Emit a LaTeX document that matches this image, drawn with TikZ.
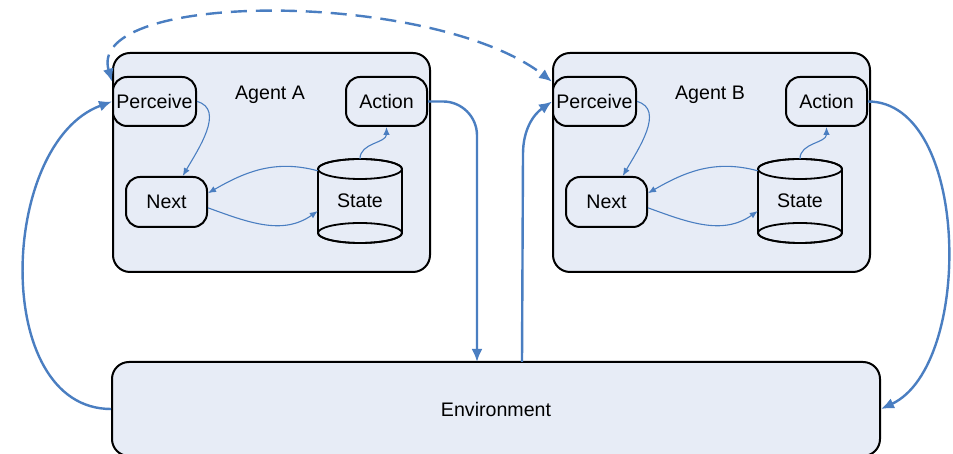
\documentclass[tikz,border=0pt]{standalone}
\usepackage{fontspec}
\setmainfont{Liberation Sans}
\usetikzlibrary{arrows.meta}
\definecolor{fillc}{RGB}{231,236,246}
\definecolor{linkc}{RGB}{74,126,193}
\begin{document}
\begin{tikzpicture}[x=1pt,y=1pt,
  font=\fontsize{19.6}{22}\selectfont,
  frame/.style={draw=black, line width=2pt, fill=fillc, rounded corners=17pt, inner sep=0pt},
  box/.style={draw=black, line width=2pt, fill=fillc, rounded corners=14pt, inner sep=0pt,
              minimum height=49pt},
  cylline/.style={draw=black, line width=1.8pt},
  bigtip/.tip={Latex[length=13pt,width=11pt]},
  smalltip/.tip={Latex[length=8pt,width=6.5pt]},
  bigarrow/.style={draw=linkc, line width=2.4pt, -bigtip},
  smallarrow/.style={draw=linkc, line width=1.1pt, -smalltip},
]
\useasboundingbox[fill=white] (0,0) rectangle (953,454);

% environment
\node[frame, minimum width=768pt, minimum height=94pt] (env) at (496,45) {Environment};

% the two agents, identical apart from their horizontal offset
\foreach \ag/\dx in {A/0,B/440}{
  \begin{scope}[xshift=\dx pt]
    \node[frame, minimum width=317pt, minimum height=219pt] (ag\ag) at (271.5,291.5) {};
    \node (lab\ag) at (270,359) {Agent \ag};
    \node[box, minimum width=83pt] (per\ag) at (154.5,352.5) {Perceive};
    \node[box, minimum width=81pt] (act\ag) at (386.5,352.5) {Action};
    \node[box, minimum width=81pt, minimum height=50pt] (nx\ag) at (166.5,252) {Next};
    % state store drawn as a cylinder
    \path[cylline, fill=fillc] (318,285) -- (318,221)
      arc[start angle=180, end angle=360, x radius=42pt, y radius=10pt]
      -- (402,285)
      arc[start angle=0, end angle=180, x radius=42pt, y radius=10pt] -- cycle;
    \draw[cylline] (360,285) ellipse[x radius=42pt, y radius=10pt];
    \draw[cylline] (360,221) ellipse[x radius=42pt, y radius=10pt];
    \node[minimum width=84pt, minimum height=84pt, inner sep=0pt] (st\ag) at (360,253) {State};
    % internal flow
    \draw[smallarrow] (per\ag.east) to[out=-15,in=60] (nx\ag.58);
    \draw[smallarrow] ([yshift=-12pt]st\ag.north west) to[out=165,in=30] (nx\ag.12);
    \draw[smallarrow] (nx\ag.-8) to[out=-20,in=215] ([yshift=-10pt]st\ag.west);
    \draw[smallarrow] (st\ag.north) to[out=90,in=-90] (act\ag.south);
  \end{scope}
}

% links between agents and environment
\coordinate (ea) at (477,92);
\coordinate (eb) at (522,92);
\draw[bigarrow] (env.west) to[out=180,in=200] (perA.west);
\draw[bigarrow, rounded corners=34pt] (actA.east) -| (ea);
\draw[bigarrow] (eb) -- (523,300) to[out=90,in=215] (perB.west);
\draw[bigarrow] (actB.east) to[out=0,in=25,looseness=0.85] (env.east);
\draw[bigarrow, bigtip-bigtip, dash pattern=on 16pt off 9pt]
  (perA.155) .. controls (85,464) and (433,464) .. (perB.155);
\end{tikzpicture}
\end{document}
